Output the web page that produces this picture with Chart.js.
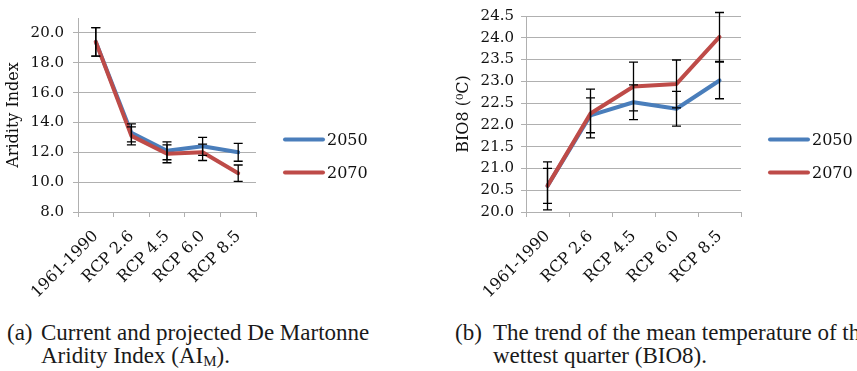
<!DOCTYPE html>
<html>
<head>
<meta charset="utf-8">
<script src="https://cdn.jsdelivr.net/npm/chart.js@4.4.1/dist/chart.umd.min.js"></script>
<style>
body{margin:0;width:857px;height:371px;overflow:hidden;background:#fff;position:relative;}
.box{position:absolute;top:0;height:312px;}
#boxA{left:0;width:420px;}
#boxB{left:420px;width:437px;}
.cap{position:absolute;top:321px;font-family:"Liberation Serif",serif;font-size:23px;line-height:23px;color:#1a1a1a;white-space:nowrap;}
.cap .tag{position:absolute;left:0;top:0;}
.cap .txt{display:block;}
.cap sub{font-size:15px;vertical-align:-3px;line-height:0;}
#capA{left:7px;}
#capA .txt{margin-left:34px;}
#capB{left:455px;}
#capB .txt{margin-left:38px;}
</style>
</head>
<body>
<div class="box" id="boxA"><canvas id="aridityChart" width="420" height="312"></canvas></div>
<div class="box" id="boxB"><canvas id="bioChart" width="437" height="312"></canvas></div>
<div class="cap" id="capA"><span class="tag">(a)</span><span class="txt">Current and projected De Martonne<br>Aridity Index (AI<sub>M</sub>).</span></div>
<div class="cap" id="capB"><span class="tag">(b)</span><span class="txt">The trend of the mean temperature of the<br>wettest quarter (BIO8).</span></div>
<script>
var categories = ["1961-1990", "RCP 2.6", "RCP 4.5", "RCP 6.0", "RCP 8.5"];
var seriesNames = ["2050", "2070"];

// aridity index (mean and error)
var aridity2050 = [19.4, 13.3, 12.1, 12.4, 12.0];
var aridity2070 = [19.4, 13.1, 11.9, 12.0, 10.6];
var aridityErr2050 = [0.95, 0.6, 0.6, 0.6, 0.6];
var aridityErr2070 = [0.95, 0.6, 0.6, 0.55, 0.55];
var aridityTicks = [8, 10, 12, 14, 16, 18, 20];

// BIO8 temperature (mean and error)
var bio2050 = [20.6, 22.22, 22.52, 22.37, 23.02];
var bio2070 = [20.6, 22.26, 22.88, 22.94, 24.02];
var bioErr2050 = [0.55, 0.4, 0.4, 0.4, 0.42];
var bioErr2070 = [0.4, 0.56, 0.56, 0.55, 0.56];
var bioTicks = [20, 20.5, 21, 21.5, 22, 22.5, 23, 23.5, 24, 24.5];

var blue = "#4A7EBB";
var red = "#BE4B48";
var gridColor = "#b0b0b0";

Chart.defaults.font.family = "DejaVu Serif";
Chart.defaults.color = "#111";

// vertical error bars with caps, drawn over the lines
var errorBars = {
    id: "errorBars",
    afterDatasetsDraw: function(chart){
        var ctx = chart.ctx;
        var yScale = chart.scales.y;
        ctx.save();
        ctx.strokeStyle = "#000";
        ctx.lineWidth = 1.3;
        chart.data.datasets.forEach(function(ds, i){
            var meta = chart.getDatasetMeta(i);
            meta.data.forEach(function(pt, j){
                var v = ds.data[j], e = ds.errors[j];
                var top = yScale.getPixelForValue(v + e);
                var bot = yScale.getPixelForValue(v - e);
                ctx.beginPath();
                ctx.moveTo(pt.x, top); ctx.lineTo(pt.x, bot);
                ctx.moveTo(pt.x - 4.5, top); ctx.lineTo(pt.x + 4.5, top);
                ctx.moveTo(pt.x - 4.5, bot); ctx.lineTo(pt.x + 4.5, bot);
                ctx.stroke();
            });
        });
        ctx.restore();
    }
};

// legend on the right side: short thick line + label
var sideLegend = {
    id: "sideLegend",
    afterDraw: function(chart){
        var ctx = chart.ctx;
        var x0 = chart.chartArea.right + 29;
        var mid = chart.height / 2;
        ctx.save();
        ctx.font = "16px 'DejaVu Serif'";
        ctx.textBaseline = "middle";
        ctx.fillStyle = "#111";
        chart.data.datasets.forEach(function(ds, i){
            var yy = mid - 16.5 + i * 33;
            ctx.strokeStyle = ds.borderColor;
            ctx.lineWidth = 4;
            ctx.lineCap = "round";
            ctx.beginPath();
            ctx.moveTo(x0, yy); ctx.lineTo(x0 + 38, yy);
            ctx.stroke();
            ctx.fillText(ds.label, x0 + 42, yy + 1);
        });
        ctx.restore();
    }
};

function makeChart(id, vals1, vals2, err1, err2, yOpts, layoutPad, yWidth){
    var ctx = document.getElementById(id);
    return new Chart(ctx, {
        type: "line",
        data: {
            labels: categories,
            datasets: [
                // 2070 line sits on top of 2050
                {label: seriesNames[0], data: vals1, errors: err1, order: 1, borderColor: blue, borderWidth: 4, pointRadius: 0, tension: 0, borderJoinStyle: "round", borderCapStyle: "round"},
                {label: seriesNames[1], data: vals2, errors: err2, order: 0, borderColor: red, borderWidth: 4, pointRadius: 0, tension: 0, borderJoinStyle: "round", borderCapStyle: "round"}
            ]
        },
        options: {
            responsive: false,
            animation: false,
            layout: {padding: layoutPad},
            plugins: {legend: {display: false}, tooltip: {enabled: false}},
            scales: {
                x: {
                    offset: true,
                    grid: {offset: true, drawOnChartArea: false, drawTicks: true, tickLength: 5, color: gridColor},
                    border: {color: gridColor},
                    ticks: {autoSkip: false, minRotation: 45, maxRotation: 45, padding: 10, font: {size: 16}},
                    afterFit: function(s){ s.height = 100; }
                },
                y: {
                    min: yOpts.min,
                    max: yOpts.max,
                    grid: {color: gridColor, tickLength: 5},
                    border: {color: gridColor},
                    ticks: {padding: yOpts.pad, font: {size: 15}, callback: function(v){ return v.toFixed(1); }},
                    title: {display: true, text: yOpts.title, font: {size: 16}, padding: {top: 4, bottom: 4}},
                    afterBuildTicks: function(s){ s.ticks = yOpts.ticks.map(function(v){ return {value: v}; }); },
                    afterFit: function(s){ s.width = yWidth; }
                }
            }
        },
        plugins: [errorBars, sideLegend]
    });
}

makeChart("aridityChart", aridity2050, aridity2070, aridityErr2050, aridityErr2070,
    {min: 8, max: 21, ticks: aridityTicks, pad: 9, title: "Aridity Index"},
    {top: 15, right: 164, left: 0, bottom: 0}, 78);

makeChart("bioChart", bio2050, bio2070, bioErr2050, bioErr2070,
    {min: 20, max: 24.5, ticks: bioTicks, pad: 7, title: "BIO8 (\u2070C)"},
    {top: 15, right: 116, left: 30, bottom: 0}, 76);
</script>
</body>
</html>
